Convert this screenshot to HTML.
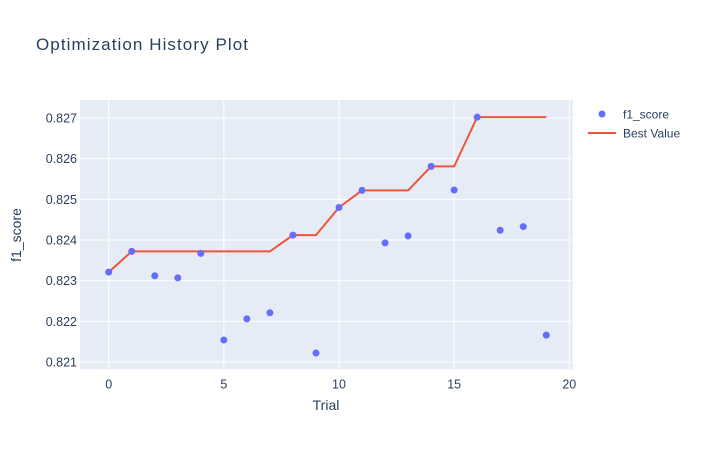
<!DOCTYPE html>
<html><head><meta charset="utf-8"><style>
body{margin:0;background:#fff}
svg text{font-family:"Liberation Sans",sans-serif;fill:#2a3f5f}
</style></head><body>
<svg id="chart" width="704" height="450" xmlns="http://www.w3.org/2000/svg">
<text x="36" y="50" font-size="17" textLength="212">Optimization History Plot</text>
<rect x="80" y="100" width="492.7" height="269.5" fill="#e5ecf6"/>
<g id="grid"></g>
<g id="ticks"></g>
<g id="series"></g>
<text x="326" y="410" font-size="14" text-anchor="middle">Trial</text>
<text transform="translate(21,235) rotate(-90)" font-size="14" text-anchor="middle">f1_score</text>
<g>
<circle cx="602" cy="114" r="3.5" fill="#636efa"/>
<text x="623" y="118.5" font-size="12">f1_score</text>
<line x1="588" y1="133" x2="616" y2="133" stroke="#ef553b" stroke-width="2"/>
<text x="623" y="137.5" font-size="12">Best Value</text>
</g>
</svg>
<script>
const trials=[0,1,2,3,4,5,6,7,8,9,10,11,12,13,14,15,16,17,18,19];
const scores=[0.82321,0.82372,0.82312,0.82307,0.82367,0.82154,0.82206,0.82221,0.82412,0.82122,0.8248,0.82522,0.82393,0.8241,0.82581,0.82523,0.82702,0.82424,0.82433,0.82166];
const xTicks=[0,5,10,15,20];
const yTicks=[0.821,0.822,0.823,0.824,0.825,0.826,0.827];

const NS="http://www.w3.org/2000/svg";
const L=80,R=572.7,T=100,B=369.5;
const X=v=>108.7+(v-0)*(569.3-108.7)/20;
const Y=v=>118+(0.827-v)*40667;
function mk(tag,attrs,parent){const e=document.createElementNS(NS,tag);for(const k in attrs)e.setAttribute(k,attrs[k]);parent.appendChild(e);return e;}
const grid=document.getElementById('grid'),ticks=document.getElementById('ticks'),series=document.getElementById('series');
xTicks.forEach(t=>{
  const g=mk('line',{x1:X(t),x2:X(t),y1:T,y2:B,stroke:'#fff','stroke-width':1},grid);
  
  
  const tx=mk('text',{x:X(t),y:B+14+5,'font-size':12.5,'text-anchor':'middle'},ticks);
  tx.textContent=t;
  
  
});
yTicks.forEach(t=>{
  const g=mk('line',{x1:L,x2:R,y1:Y(t),y2:Y(t),stroke:'#fff','stroke-width':1},grid);
  
  
  const tx=mk('text',{x:L-3,y:Y(t)+4.5,'font-size':12.5,'text-anchor':'end'},ticks);
  tx.textContent=t.toFixed(3);
  
  
});
let best=-Infinity;const pts=[];
scores.forEach((s,i)=>{best=Math.max(best,s);pts.push(X(trials[i])+','+Y(best));});
const line=mk('polyline',{points:pts.join(' '),fill:'none',stroke:'#ef553b','stroke-width':2},series);


scores.forEach((s,i)=>{
  const c=mk('circle',{cx:X(trials[i]),cy:Y(s),r:3.5,fill:'#636efa'},series);
  
  
});
</script>
</body></html>
